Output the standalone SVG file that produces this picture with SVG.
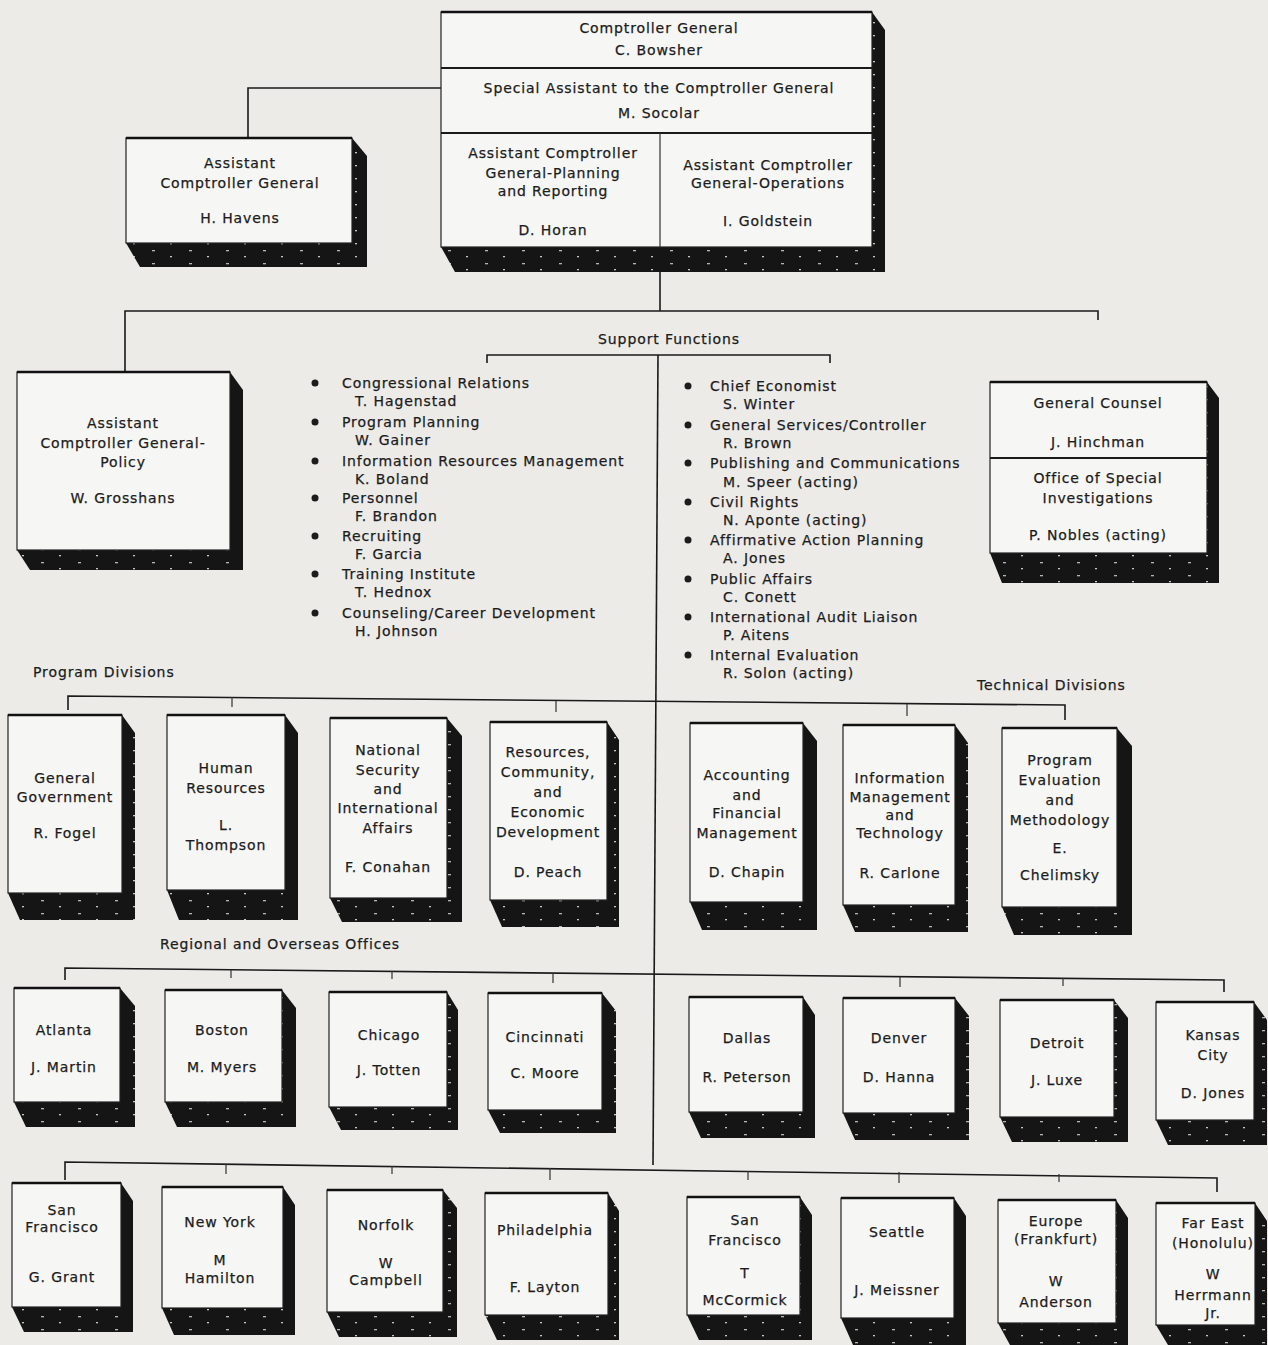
<svg xmlns="http://www.w3.org/2000/svg" width="1268" height="1345" viewBox="0 0 1268 1345">
<defs>
<pattern id="spk" width="37" height="13" patternUnits="userSpaceOnUse">
<rect width="37" height="13" fill="#151515"/>
<rect x="4" y="3" width="3" height="1.3" fill="#b5b5b5"/>
<rect x="22" y="9" width="2" height="1.3" fill="#c8c8c8"/>
</pattern>
<style>
.face{fill:#f6f6f4;stroke:#222;stroke-width:1.2}
.top{stroke:#111;stroke-width:2.6}
.div{stroke:#1a1a1a;stroke-width:2}
.sh{fill:url(#spk)}
.ln{stroke:#1a1a1a;stroke-width:1.6;fill:none}
.tk{stroke:#333;stroke-width:1.2}
text{font-family:"DejaVu Sans","Liberation Sans",sans-serif;font-size:14px;letter-spacing:0.9px;fill:#1c1c1c;stroke:#1c1c1c;stroke-width:0.25}
.c{text-anchor:middle}
.b{fill:#1c1c1c}
</style>
</defs>
<rect width="1268" height="1345" fill="#ecebe8"/>

<g id="connectors">
<path class="ln" d="M248,138 V88 H441"/>
<path class="ln" d="M660,272 V311"/>
<path class="ln" d="M658,355 L653,1165"/>
<path class="ln" d="M125,372 V311 H1098 V320"/>
<path class="ln" d="M487,363 V355 H830 V363"/>
<path class="ln" d="M68,710 V696 L1065,705 V720"/>
<path class="tk" d="M232,697 V707 M556,701 V712 M907,704 V716"/>
<path class="ln" d="M65,980 V968 L1224,980 V992"/>
<path class="tk" d="M231,970 V978 M392,971 V979 M553,973 V983 M900,977 V987 M1063,978 V986"/>
<path class="ln" d="M65,1180 V1162 L1217,1178 V1192"/>
<path class="tk" d="M226,1164 V1174 M392,1166 V1174 M550,1168 V1180 M748,1171 V1180 M899,1172 V1183 M1059,1174 V1182"/>
</g>

<g id="comptroller-general">
<polygon class="sh" points="872,12 885,30 885,272 455,272 441,247"/>
<rect class="face" x="441" y="12" width="431" height="235"/>
<line class="top" x1="441" y1="12" x2="872" y2="12"/>
<line class="div" x1="441" y1="68" x2="872" y2="68"/>
<line class="div" x1="441" y1="133" x2="872" y2="133"/>
<line class="tk" x1="660" y1="133" x2="660" y2="247"/>
<text class="c" x="659" y="33">Comptroller General</text>
<text class="c" x="659" y="55">C. Bowsher</text>
<text class="c" x="659" y="93">Special Assistant to the Comptroller General</text>
<text class="c" x="659" y="118">M. Socolar</text>
<text class="c" x="553" y="158">Assistant Comptroller</text>
<text class="c" x="553" y="178">General-Planning</text>
<text class="c" x="553" y="196">and Reporting</text>
<text class="c" x="553" y="235">D. Horan</text>
<text class="c" x="768" y="170">Assistant Comptroller</text>
<text class="c" x="768" y="188">General-Operations</text>
<text class="c" x="768" y="226">I. Goldstein</text>
</g>

<g id="acg-havens">
<polygon class="sh" points="352,138 367,156 367,267 140,267 126,243"/>
<rect class="face" x="126" y="138" width="226" height="105"/>
<line class="top" x1="126" y1="138" x2="352" y2="138"/>
<text class="c" x="240" y="168">Assistant</text>
<text class="c" x="240" y="188">Comptroller General</text>
<text class="c" x="240" y="223">H. Havens</text>
</g>

<g id="acg-policy">
<polygon class="sh" points="230,372 243,390 243,570 30,570 17,550"/>
<rect class="face" x="17" y="372" width="213" height="178"/>
<line class="top" x1="17" y1="372" x2="230" y2="372"/>
<text class="c" x="123" y="428">Assistant</text>
<text class="c" x="123" y="448">Comptroller General-</text>
<text class="c" x="123" y="467">Policy</text>
<text class="c" x="123" y="503">W. Grosshans</text>
</g>

<g id="support-functions">
<text class="c" x="669" y="344">Support Functions</text>
</g>

<g id="support-list-left">
<circle class="b" cx="315" cy="383" r="3.5"/><text x="342" y="388">Congressional Relations</text><text x="355" y="406">T. Hagenstad</text>
<circle class="b" cx="315" cy="422" r="3.5"/><text x="342" y="427">Program Planning</text><text x="355" y="445">W. Gainer</text>
<circle class="b" cx="315" cy="461" r="3.5"/><text x="342" y="466">Information Resources Management</text><text x="355" y="484">K. Boland</text>
<circle class="b" cx="315" cy="498" r="3.5"/><text x="342" y="503">Personnel</text><text x="355" y="521">F. Brandon</text>
<circle class="b" cx="315" cy="536" r="3.5"/><text x="342" y="541">Recruiting</text><text x="355" y="559">F. Garcia</text>
<circle class="b" cx="315" cy="574" r="3.5"/><text x="342" y="579">Training Institute</text><text x="355" y="597">T. Hednox</text>
<circle class="b" cx="315" cy="613" r="3.5"/><text x="342" y="618">Counseling/Career Development</text><text x="355" y="636">H. Johnson</text>
</g>

<g id="support-list-right">
<circle class="b" cx="688" cy="386" r="3.5"/><text x="710" y="391">Chief Economist</text><text x="723" y="409">S. Winter</text>
<circle class="b" cx="688" cy="425" r="3.5"/><text x="710" y="430">General Services/Controller</text><text x="723" y="448">R. Brown</text>
<circle class="b" cx="688" cy="463" r="3.5"/><text x="710" y="468">Publishing and Communications</text><text x="723" y="487">M. Speer (acting)</text>
<circle class="b" cx="688" cy="502" r="3.5"/><text x="710" y="507">Civil Rights</text><text x="723" y="525">N. Aponte (acting)</text>
<circle class="b" cx="688" cy="540" r="3.5"/><text x="710" y="545">Affirmative Action Planning</text><text x="723" y="563">A. Jones</text>
<circle class="b" cx="688" cy="579" r="3.5"/><text x="710" y="584">Public Affairs</text><text x="723" y="602">C. Conett</text>
<circle class="b" cx="688" cy="617" r="3.5"/><text x="710" y="622">International Audit Liaison</text><text x="723" y="640">P. Aitens</text>
<circle class="b" cx="688" cy="655" r="3.5"/><text x="710" y="660">Internal Evaluation</text><text x="723" y="678">R. Solon (acting)</text>
</g>

<g id="general-counsel">
<polygon class="sh" points="1207,382 1219,398 1219,583 1002,583 990,553"/>
<rect class="face" x="990" y="382" width="217" height="171"/>
<line class="top" x1="990" y1="382" x2="1207" y2="382"/>
<line class="div" x1="990" y1="458" x2="1207" y2="458"/>
<text class="c" x="1098" y="408">General Counsel</text>
<text class="c" x="1098" y="447">J. Hinchman</text>
<text class="c" x="1098" y="483">Office of Special</text>
<text class="c" x="1098" y="503">Investigations</text>
<text class="c" x="1098" y="540">P. Nobles (acting)</text>
</g>

<text id="label-program" x="33" y="677">Program Divisions</text>
<text id="label-technical" x="977" y="690">Technical Divisions</text>
<text id="label-regional" x="160" y="949">Regional and Overseas Offices</text>

<g id="general-government">
<polygon class="sh" points="122,715 135,733 135,920 20,920 8,893"/>
<rect class="face" x="8" y="715" width="114" height="178"/>
<line class="top" x1="8" y1="715" x2="122" y2="715"/>
<text class="c" x="65" y="783">General</text>
<text class="c" x="65" y="802">Government</text>
<text class="c" x="65" y="838">R. Fogel</text>
</g>
<g id="human-resources">
<polygon class="sh" points="285,715 298,733 298,920 179,920 167,890"/>
<rect class="face" x="167" y="715" width="118" height="175"/>
<line class="top" x1="167" y1="715" x2="285" y2="715"/>
<text class="c" x="226" y="773">Human</text>
<text class="c" x="226" y="793">Resources</text>
<text class="c" x="226" y="830">L.</text>
<text class="c" x="226" y="850">Thompson</text>
</g>
<g id="national-security">
<polygon class="sh" points="447,718 462,736 462,922 342,922 330,898"/>
<rect class="face" x="330" y="718" width="117" height="180"/>
<line class="top" x1="330" y1="718" x2="447" y2="718"/>
<text class="c" x="388" y="755">National</text>
<text class="c" x="388" y="775">Security</text>
<text class="c" x="388" y="794">and</text>
<text class="c" x="388" y="813">International</text>
<text class="c" x="388" y="833">Affairs</text>
<text class="c" x="388" y="872">F. Conahan</text>
</g>
<g id="resources-community">
<polygon class="sh" points="607,722 619,740 619,927 502,927 490,900"/>
<rect class="face" x="490" y="722" width="117" height="178"/>
<line class="top" x1="490" y1="722" x2="607" y2="722"/>
<text class="c" x="548" y="757">Resources,</text>
<text class="c" x="548" y="777">Community,</text>
<text class="c" x="548" y="797">and</text>
<text class="c" x="548" y="817">Economic</text>
<text class="c" x="548" y="837">Development</text>
<text class="c" x="548" y="877">D. Peach</text>
</g>
<g id="accounting-financial">
<polygon class="sh" points="803,723 817,741 817,930 702,930 690,902"/>
<rect class="face" x="690" y="723" width="113" height="179"/>
<line class="top" x1="690" y1="723" x2="803" y2="723"/>
<text class="c" x="747" y="780">Accounting</text>
<text class="c" x="747" y="800">and</text>
<text class="c" x="747" y="818">Financial</text>
<text class="c" x="747" y="838">Management</text>
<text class="c" x="747" y="877">D. Chapin</text>
</g>
<g id="information-management">
<polygon class="sh" points="955,725 968,743 968,932 855,932 843,905"/>
<rect class="face" x="843" y="725" width="112" height="180"/>
<line class="top" x1="843" y1="725" x2="955" y2="725"/>
<text class="c" x="900" y="783">Information</text>
<text class="c" x="900" y="802">Management</text>
<text class="c" x="900" y="820">and</text>
<text class="c" x="900" y="838">Technology</text>
<text class="c" x="900" y="878">R. Carlone</text>
</g>
<g id="program-evaluation">
<polygon class="sh" points="1117,728 1132,746 1132,935 1014,935 1002,907"/>
<rect class="face" x="1002" y="728" width="115" height="179"/>
<line class="top" x1="1002" y1="728" x2="1117" y2="728"/>
<text class="c" x="1060" y="765">Program</text>
<text class="c" x="1060" y="785">Evaluation</text>
<text class="c" x="1060" y="805">and</text>
<text class="c" x="1060" y="825">Methodology</text>
<text class="c" x="1060" y="853">E.</text>
<text class="c" x="1060" y="880">Chelimsky</text>
</g>

<g id="atlanta">
<polygon class="sh" points="120,988 135,1006 135,1127 26,1127 14,1102"/>
<rect class="face" x="14" y="988" width="106" height="114"/>
<line class="top" x1="14" y1="988" x2="120" y2="988"/>
<text class="c" x="64" y="1035">Atlanta</text>
<text class="c" x="64" y="1072">J. Martin</text>
</g>
<g id="boston">
<polygon class="sh" points="282,990 296,1008 296,1127 177,1127 165,1102"/>
<rect class="face" x="165" y="990" width="117" height="112"/>
<line class="top" x1="165" y1="990" x2="282" y2="990"/>
<text class="c" x="222" y="1035">Boston</text>
<text class="c" x="222" y="1072">M. Myers</text>
</g>
<g id="chicago">
<polygon class="sh" points="447,992 458,1010 458,1130 341,1130 329,1107"/>
<rect class="face" x="329" y="992" width="118" height="115"/>
<line class="top" x1="329" y1="992" x2="447" y2="992"/>
<text class="c" x="389" y="1040">Chicago</text>
<text class="c" x="389" y="1075">J. Totten</text>
</g>
<g id="cincinnati">
<polygon class="sh" points="602,993 616,1011 616,1133 500,1133 488,1110"/>
<rect class="face" x="488" y="993" width="114" height="117"/>
<line class="top" x1="488" y1="993" x2="602" y2="993"/>
<text class="c" x="545" y="1042">Cincinnati</text>
<text class="c" x="545" y="1078">C. Moore</text>
</g>
<g id="dallas">
<polygon class="sh" points="803,997 815,1015 815,1138 701,1138 689,1112"/>
<rect class="face" x="689" y="997" width="114" height="115"/>
<line class="top" x1="689" y1="997" x2="803" y2="997"/>
<text class="c" x="747" y="1043">Dallas</text>
<text class="c" x="747" y="1082">R. Peterson</text>
</g>
<g id="denver">
<polygon class="sh" points="955,998 969,1016 969,1140 855,1140 843,1113"/>
<rect class="face" x="843" y="998" width="112" height="115"/>
<line class="top" x1="843" y1="998" x2="955" y2="998"/>
<text class="c" x="899" y="1043">Denver</text>
<text class="c" x="899" y="1082">D. Hanna</text>
</g>
<g id="detroit">
<polygon class="sh" points="1114,1000 1128,1018 1128,1142 1012,1142 1000,1117"/>
<rect class="face" x="1000" y="1000" width="114" height="117"/>
<line class="top" x1="1000" y1="1000" x2="1114" y2="1000"/>
<text class="c" x="1057" y="1048">Detroit</text>
<text class="c" x="1057" y="1085">J. Luxe</text>
</g>
<g id="kansas-city">
<polygon class="sh" points="1254,1002 1267,1020 1267,1145 1168,1145 1156,1120"/>
<rect class="face" x="1156" y="1002" width="98" height="118"/>
<line class="top" x1="1156" y1="1002" x2="1254" y2="1002"/>
<text class="c" x="1213" y="1040">Kansas</text>
<text class="c" x="1213" y="1060">City</text>
<text class="c" x="1213" y="1098">D. Jones</text>
</g>

<g id="san-francisco-1">
<polygon class="sh" points="121,1183 133,1201 133,1332 24,1332 12,1307"/>
<rect class="face" x="12" y="1183" width="109" height="124"/>
<line class="top" x1="12" y1="1183" x2="121" y2="1183"/>
<text class="c" x="62" y="1215">San</text>
<text class="c" x="62" y="1232">Francisco</text>
<text class="c" x="62" y="1282">G. Grant</text>
</g>
<g id="new-york">
<polygon class="sh" points="283,1187 295,1205 295,1335 174,1335 162,1308"/>
<rect class="face" x="162" y="1187" width="121" height="121"/>
<line class="top" x1="162" y1="1187" x2="283" y2="1187"/>
<text class="c" x="220" y="1227">New York</text>
<text class="c" x="220" y="1265">M</text>
<text class="c" x="220" y="1283">Hamilton</text>
</g>
<g id="norfolk">
<polygon class="sh" points="443,1190 457,1208 457,1337 339,1337 327,1312"/>
<rect class="face" x="327" y="1190" width="116" height="122"/>
<line class="top" x1="327" y1="1190" x2="443" y2="1190"/>
<text class="c" x="386" y="1230">Norfolk</text>
<text class="c" x="386" y="1268">W</text>
<text class="c" x="386" y="1285">Campbell</text>
</g>
<g id="philadelphia">
<polygon class="sh" points="608,1193 619,1211 619,1340 497,1340 485,1315"/>
<rect class="face" x="485" y="1193" width="123" height="122"/>
<line class="top" x1="485" y1="1193" x2="608" y2="1193"/>
<text class="c" x="545" y="1235">Philadelphia</text>
<text class="c" x="545" y="1292">F. Layton</text>
</g>
<g id="san-francisco-2">
<polygon class="sh" points="800,1197 812,1215 812,1340 699,1340 687,1315"/>
<rect class="face" x="687" y="1197" width="113" height="118"/>
<line class="top" x1="687" y1="1197" x2="800" y2="1197"/>
<text class="c" x="745" y="1225">San</text>
<text class="c" x="745" y="1245">Francisco</text>
<text class="c" x="745" y="1278">T</text>
<text class="c" x="745" y="1305">McCormick</text>
</g>
<g id="seattle">
<polygon class="sh" points="954,1198 966,1216 966,1345 853,1345 841,1318"/>
<rect class="face" x="841" y="1198" width="113" height="120"/>
<line class="top" x1="841" y1="1198" x2="954" y2="1198"/>
<text class="c" x="897" y="1237">Seattle</text>
<text class="c" x="897" y="1295">J. Meissner</text>
</g>
<g id="europe">
<polygon class="sh" points="1116,1200 1128,1218 1128,1345 1010,1345 998,1323"/>
<rect class="face" x="998" y="1200" width="118" height="123"/>
<line class="top" x1="998" y1="1200" x2="1116" y2="1200"/>
<text class="c" x="1056" y="1226">Europe</text>
<text class="c" x="1056" y="1244">(Frankfurt)</text>
<text class="c" x="1056" y="1286">W</text>
<text class="c" x="1056" y="1307">Anderson</text>
</g>
<g id="far-east">
<polygon class="sh" points="1255,1203 1267,1221 1267,1345 1168,1345 1156,1325"/>
<rect class="face" x="1156" y="1203" width="99" height="122"/>
<line class="top" x1="1156" y1="1203" x2="1255" y2="1203"/>
<text class="c" x="1213" y="1228">Far East</text>
<text class="c" x="1213" y="1248">(Honolulu)</text>
<text class="c" x="1213" y="1279">W</text>
<text class="c" x="1213" y="1300">Herrmann</text>
<text class="c" x="1213" y="1318">Jr.</text>
</g>
</svg>
